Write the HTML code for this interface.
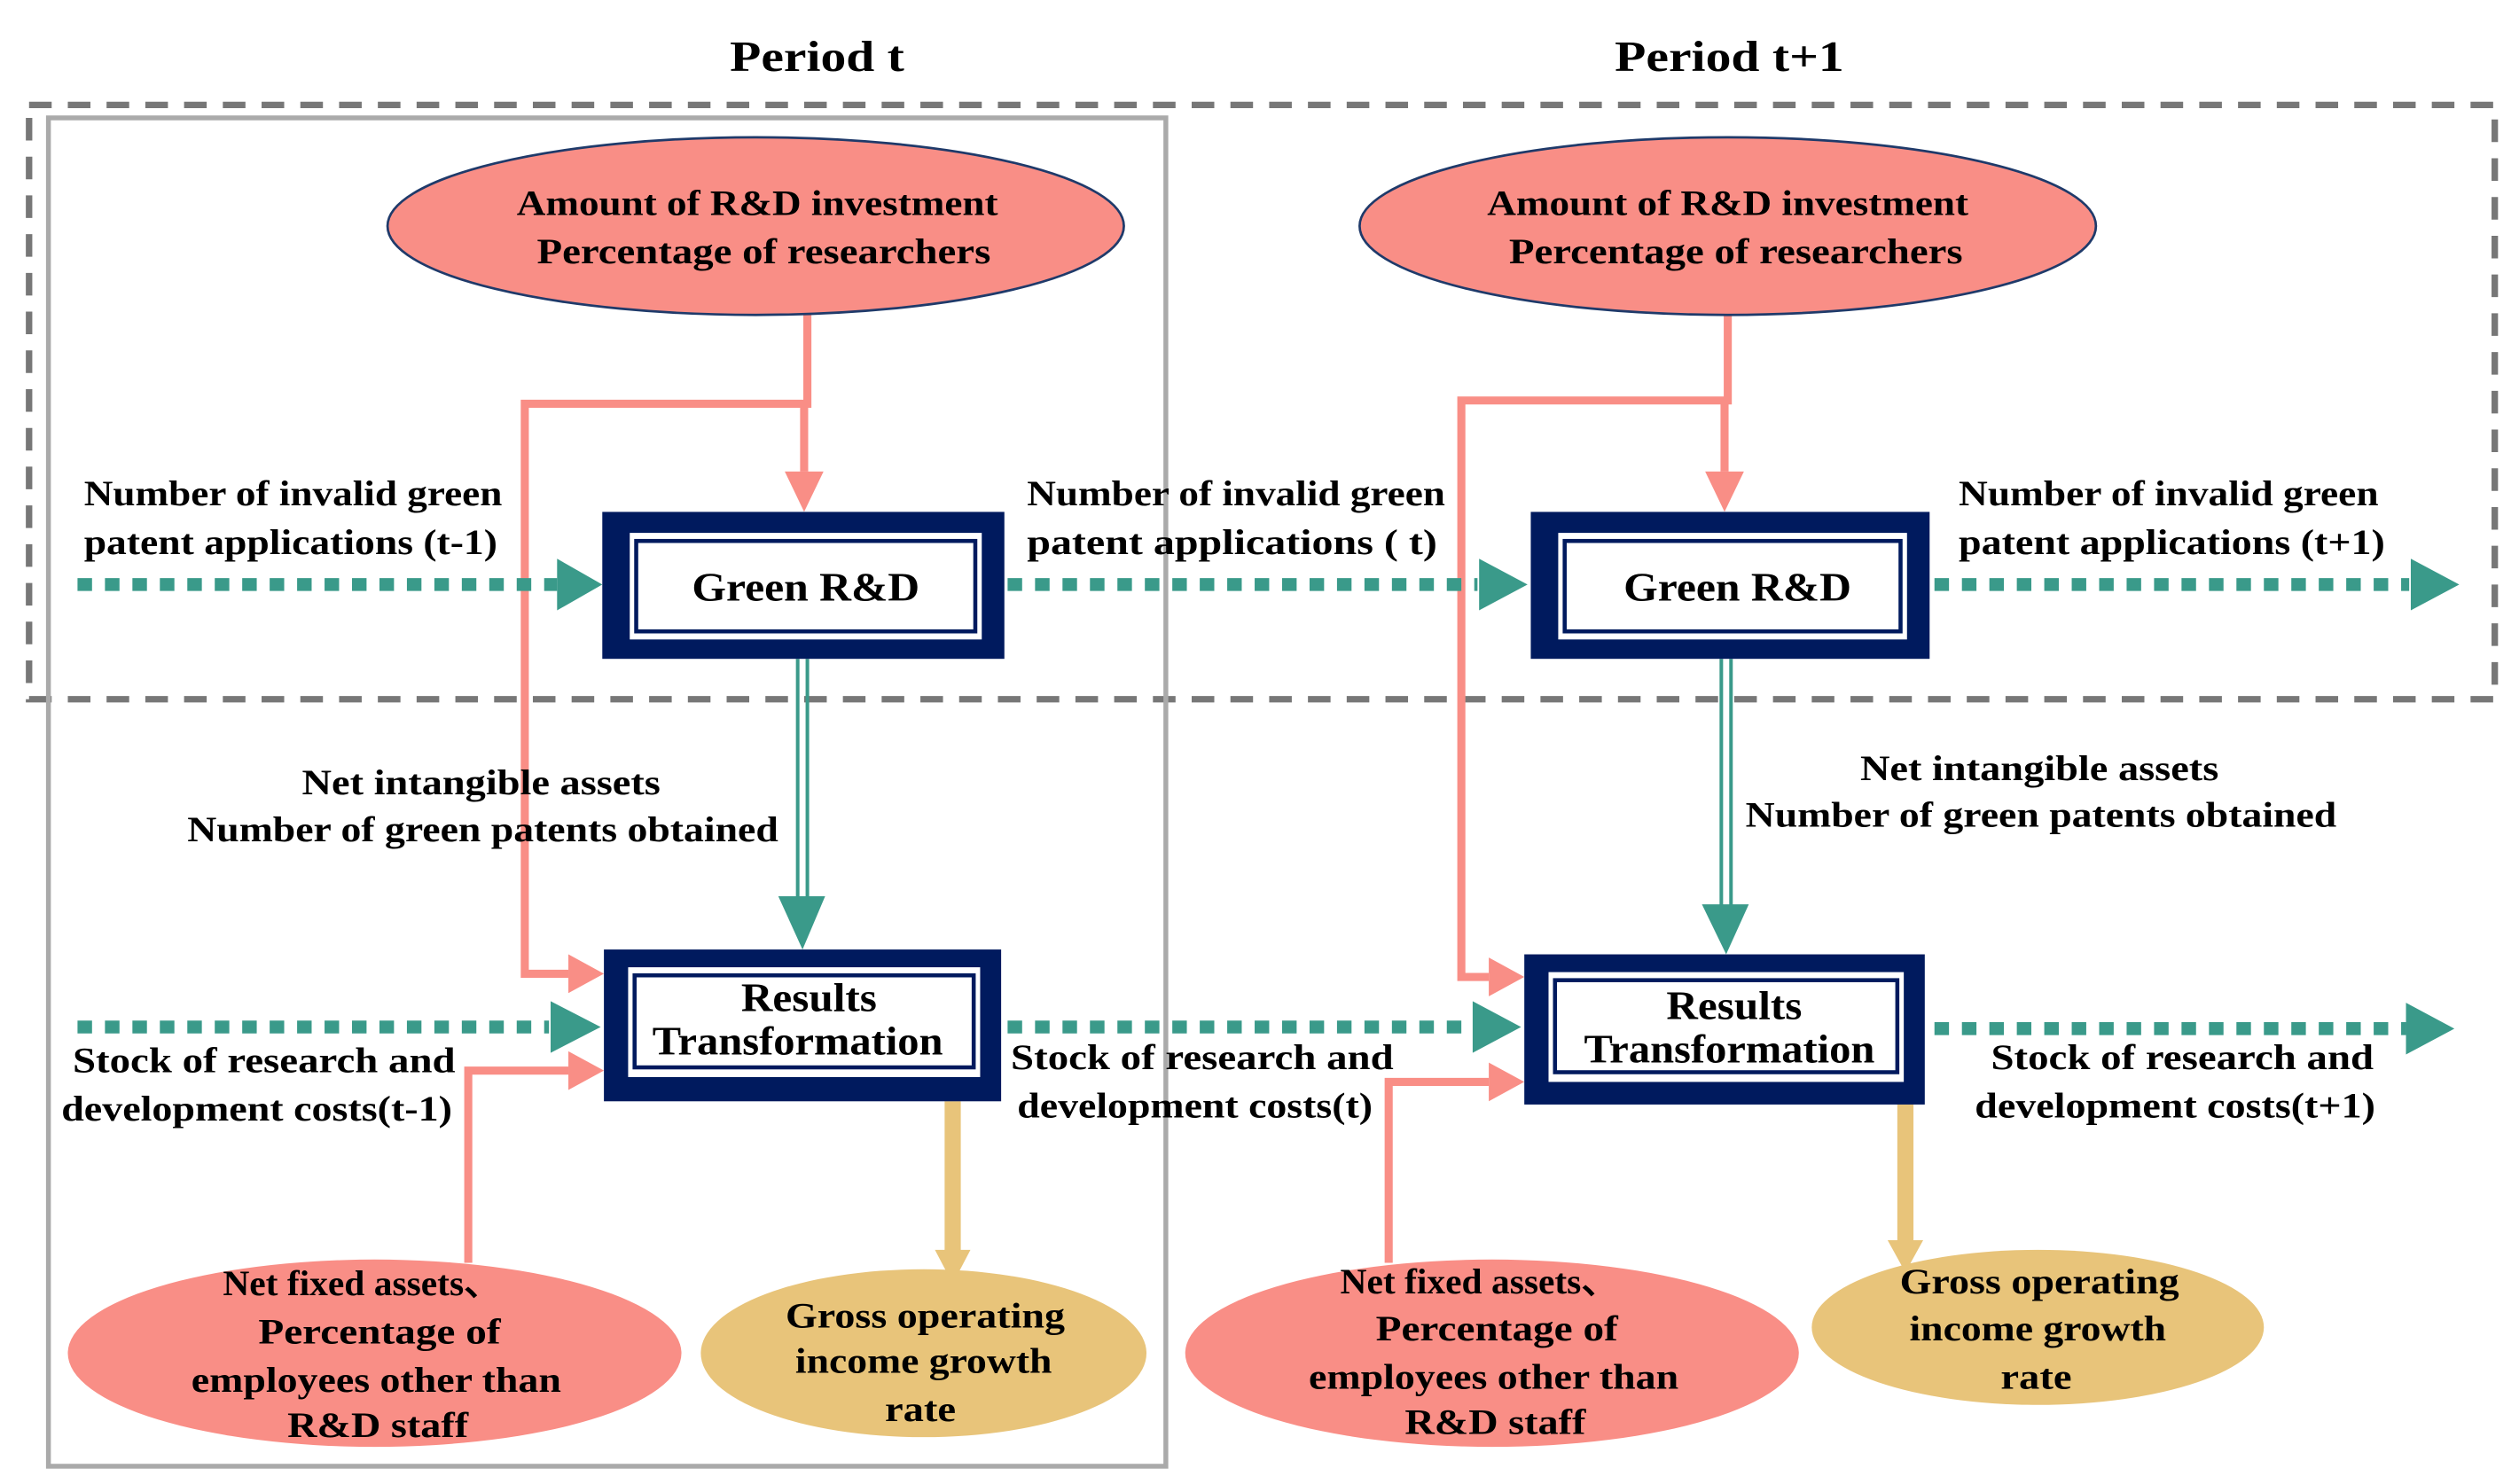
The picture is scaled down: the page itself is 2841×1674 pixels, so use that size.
<!DOCTYPE html>
<html><head><meta charset="utf-8"><style>html,body{margin:0;padding:0;background:#fff}svg{display:block}</style></head>
<body>
<svg width="2841" height="1674" viewBox="0 0 1560 919" preserveAspectRatio="none" xmlns="http://www.w3.org/2000/svg" font-family="Liberation Serif, serif" font-weight="bold" fill="#000">
<defs>
<marker id="ps" markerWidth="6" markerHeight="6" refX="5" refY="3" orient="auto" markerUnits="strokeWidth"><path d="M0,0 L6,3 L0,6 z" fill="#f98e86"/></marker>
</defs>
<rect width="1560" height="919" fill="#fff"/>
<!-- frames -->
<rect x="18" y="65" width="1527" height="368" fill="none" stroke="#777" stroke-width="4" stroke-dasharray="14,10"/>
<rect x="30" y="73" width="692" height="835" fill="none" stroke="#aaa" stroke-width="3"/>
<text x="506" y="44" font-size="27" text-anchor="middle" textLength="108" lengthAdjust="spacingAndGlyphs">Period t</text>
<text x="1071" y="44" font-size="27" text-anchor="middle" textLength="142" lengthAdjust="spacingAndGlyphs">Period t+1</text>

<!-- salmon connectors -->
<g stroke="#f98e86" stroke-width="5" fill="none">
<path d="M500,195 V250 H325 V603 H352"/>
<path d="M498,250 V292"/>
<path d="M290,782 V663 H352"/>
<path d="M1070,195 V248 H905 V605 H922"/>
<path d="M1068,248 V292"/>
<path d="M860,782 V670 H922"/>
</g>
<g fill="#f98e86">
<path d="M486,292 L510,292 L498,317 z"/>
<path d="M352,591 L374,603 L352,615 z"/>
<path d="M352,651 L374,663 L352,675 z"/>
<path d="M1056,292 L1080,292 L1068,317 z"/>
<path d="M922,593 L944,605 L922,617 z"/>
<path d="M922,658 L944,670 L922,682 z"/>
</g>

<!-- teal dotted -->
<g stroke="#3a9a8a" stroke-width="8" stroke-dasharray="9,8" fill="none">
<path d="M48,362 H345"/><path d="M624,362 H915"/><path d="M1198,362 H1492"/>
<path d="M48,636 H340"/><path d="M624,636 H912"/><path d="M1198,637 H1490"/>
</g>
<g fill="#3a9a8a">
<path d="M345,346 L373,362 L345,378 z"/>
<path d="M916,346 L946,362 L916,378 z"/>
<path d="M1493,346 L1523,362 L1493,378 z"/>
<path d="M341,620 L372,636 L341,652 z"/>
<path d="M912,620 L942,636 L912,652 z"/>
<path d="M1490,621 L1520,637 L1490,653 z"/>
</g>
<!-- teal double verticals -->
<g stroke="#3a9a8a" stroke-width="2.2">
<path d="M494,408 V558"/><path d="M500,408 V558"/>
<path d="M1066,408 V562"/><path d="M1072,408 V562"/>
</g>
<g fill="#3a9a8a">
<path d="M482,555 L511,555 L497,588 z"/>
<path d="M1054,560 L1083,560 L1069,591 z"/>
</g>
<!-- gold arrows -->
<g stroke="#e8c47a" stroke-width="10"><path d="M590,682 V776"/><path d="M1180,684 V770"/></g>
<g fill="#e8c47a"><path d="M579,774 L601,774 L590,795 z"/><path d="M1169,768 L1191,768 L1180,788 z"/></g>

<!-- top ellipses -->
<ellipse cx="468" cy="140" rx="228" ry="55" fill="#f98e86" stroke="#1f3a6a" stroke-width="1.5"/>
<ellipse cx="1070" cy="140" rx="228" ry="55" fill="#f98e86" stroke="#1f3a6a" stroke-width="1.5"/>
<g font-size="22" text-anchor="middle">
<text x="469" y="133" textLength="298" lengthAdjust="spacingAndGlyphs">Amount of R&amp;D investment</text>
<text x="473" y="163" textLength="281" lengthAdjust="spacingAndGlyphs">Percentage of researchers</text>
<text x="1070" y="133" textLength="298" lengthAdjust="spacingAndGlyphs">Amount of R&amp;D investment</text>
<text x="1075" y="163" textLength="281" lengthAdjust="spacingAndGlyphs">Percentage of researchers</text>
</g>

<!-- boxes -->
<g>
<rect x="373" y="317" width="249" height="91" fill="#001a5e"/>
<rect x="390" y="330" width="218" height="66" fill="#fff"/>
<rect x="394" y="335" width="210" height="56" fill="none" stroke="#001a5e" stroke-width="2.5"/>
<rect x="948" y="317" width="247" height="91" fill="#001a5e"/>
<rect x="965" y="330" width="216" height="66" fill="#fff"/>
<rect x="969" y="335" width="208" height="56" fill="none" stroke="#001a5e" stroke-width="2.5"/>
<rect x="374" y="588" width="246" height="94" fill="#001a5e"/>
<rect x="389" y="599" width="218" height="68" fill="#fff"/>
<rect x="393" y="604" width="210" height="57" fill="none" stroke="#001a5e" stroke-width="2.5"/>
<rect x="944" y="591" width="248" height="93" fill="#001a5e"/>
<rect x="959" y="602" width="220" height="68" fill="#fff"/>
<rect x="963" y="607" width="212" height="57" fill="none" stroke="#001a5e" stroke-width="2.5"/>
</g>
<g font-size="25" text-anchor="middle">
<text x="499" y="372" textLength="141" lengthAdjust="spacingAndGlyphs">Green R&amp;D</text>
<text x="1076" y="372" textLength="141" lengthAdjust="spacingAndGlyphs">Green R&amp;D</text>
<text x="501" y="626" textLength="84" lengthAdjust="spacingAndGlyphs">Results</text>
<text x="494" y="653" textLength="180" lengthAdjust="spacingAndGlyphs">Transformation</text>
<text x="1074" y="631" textLength="84" lengthAdjust="spacingAndGlyphs">Results</text>
<text x="1071" y="658" textLength="180" lengthAdjust="spacingAndGlyphs">Transformation</text>
</g>

<!-- bottom ellipses -->
<ellipse cx="232" cy="838" rx="190" ry="58" fill="#f98e86"/>
<ellipse cx="572" cy="838" rx="138" ry="52" fill="#e8c47a"/>
<ellipse cx="924" cy="838" rx="190" ry="58" fill="#f98e86"/>
<ellipse cx="1262" cy="822" rx="140" ry="48" fill="#e8c47a"/>

<g font-size="22" text-anchor="middle">
<text x="224" y="802" textLength="172" lengthAdjust="spacingAndGlyphs">Net fixed assets、</text>
<text x="235" y="832" textLength="150" lengthAdjust="spacingAndGlyphs">Percentage of</text>
<text x="233" y="862" textLength="229" lengthAdjust="spacingAndGlyphs">employees other than</text>
<text x="234" y="890" textLength="112" lengthAdjust="spacingAndGlyphs">R&amp;D staff</text>
<text x="916" y="801" textLength="172" lengthAdjust="spacingAndGlyphs">Net fixed assets、</text>
<text x="927" y="830" textLength="150" lengthAdjust="spacingAndGlyphs">Percentage of</text>
<text x="925" y="860" textLength="229" lengthAdjust="spacingAndGlyphs">employees other than</text>
<text x="926" y="888" textLength="112" lengthAdjust="spacingAndGlyphs">R&amp;D staff</text>
<text x="573" y="822" textLength="173" lengthAdjust="spacingAndGlyphs">Gross operating</text>
<text x="572" y="850" textLength="159" lengthAdjust="spacingAndGlyphs">income growth</text>
<text x="570" y="880" textLength="44" lengthAdjust="spacingAndGlyphs">rate</text>
<text x="1263" y="801" textLength="173" lengthAdjust="spacingAndGlyphs">Gross operating</text>
<text x="1262" y="830" textLength="159" lengthAdjust="spacingAndGlyphs">income growth</text>
<text x="1261" y="860" textLength="44" lengthAdjust="spacingAndGlyphs">rate</text>

<text x="298" y="492" textLength="222" lengthAdjust="spacingAndGlyphs">Net intangible assets</text>
<text x="299" y="521" textLength="366" lengthAdjust="spacingAndGlyphs">Number of green patents obtained</text>
<text x="1263" y="483" textLength="222" lengthAdjust="spacingAndGlyphs">Net intangible assets</text>
<text x="1264" y="512" textLength="366" lengthAdjust="spacingAndGlyphs">Number of green patents obtained</text>
</g>
<g font-size="22">
<text x="52" y="313" textLength="259" lengthAdjust="spacingAndGlyphs">Number of invalid green</text>
<text x="52" y="343" textLength="256" lengthAdjust="spacingAndGlyphs">patent applications (t-1)</text>
<text x="636" y="313" textLength="259" lengthAdjust="spacingAndGlyphs">Number of invalid green</text>
<text x="636" y="343" textLength="254" lengthAdjust="spacingAndGlyphs">patent applications (   t)</text>
<text x="1213" y="313" textLength="260" lengthAdjust="spacingAndGlyphs">Number of invalid green</text>
<text x="1213" y="343" textLength="264" lengthAdjust="spacingAndGlyphs">patent applications (t+1)</text>
<text x="45" y="664" textLength="237" lengthAdjust="spacingAndGlyphs">Stock of research and</text>
<text x="38" y="694" textLength="242" lengthAdjust="spacingAndGlyphs">development costs(t-1)</text>
<text x="626" y="662" textLength="237" lengthAdjust="spacingAndGlyphs">Stock of research and</text>
<text x="630" y="692" textLength="220" lengthAdjust="spacingAndGlyphs">development costs(t)</text>
<text x="1233" y="662" textLength="237" lengthAdjust="spacingAndGlyphs">Stock of research and</text>
<text x="1223" y="692" textLength="248" lengthAdjust="spacingAndGlyphs">development costs(t+1)</text>
</g>
</svg>
</body></html>
